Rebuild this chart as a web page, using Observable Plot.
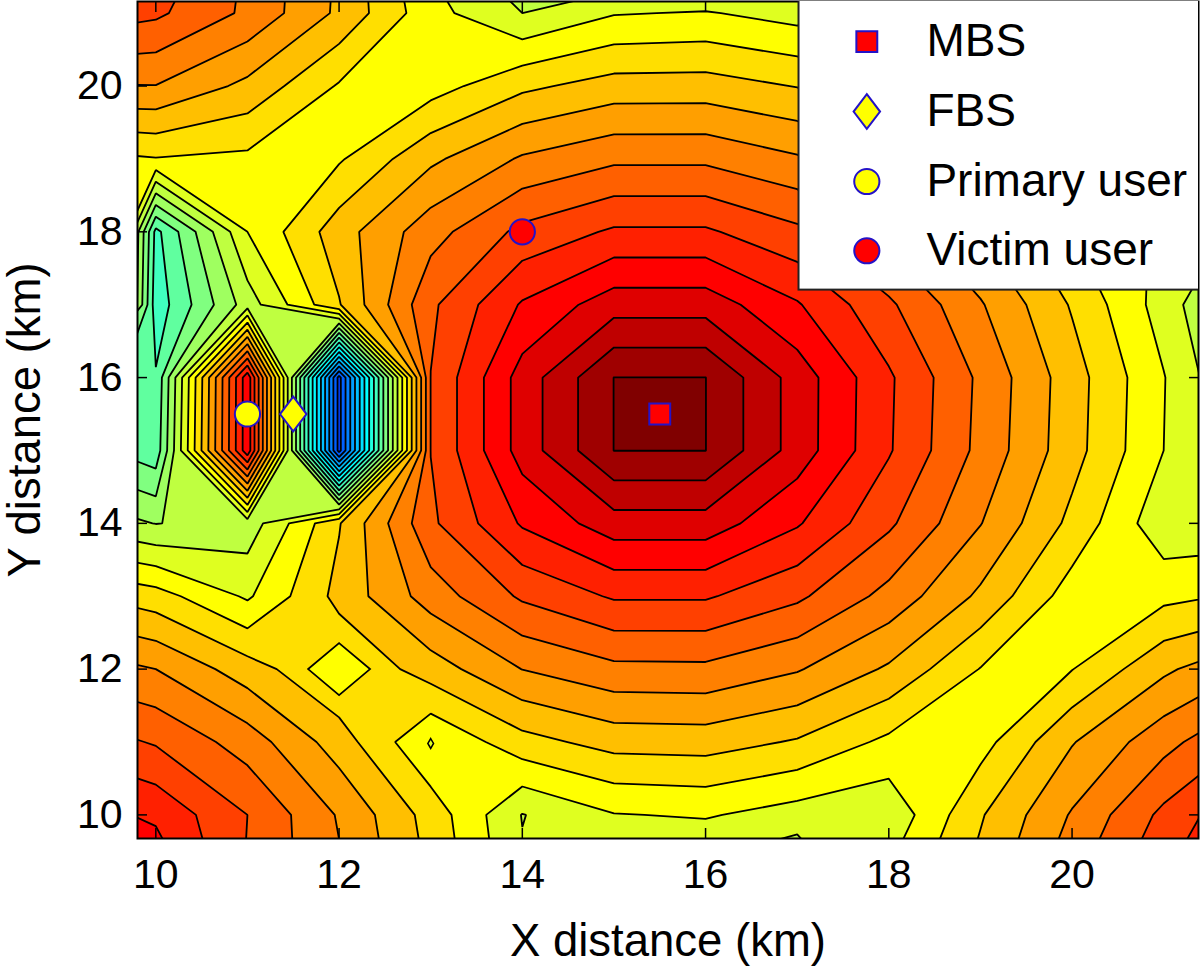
<!DOCTYPE html>
<html>
<head>
<meta charset="utf-8">
<style>html,body{margin:0;padding:0;background:#fff}svg{display:block}</style>
<script src="https://cdn.jsdelivr.net/npm/d3@7"></script>
<script src="https://cdn.jsdelivr.net/npm/@observablehq/plot@0.6"></script>
</head>
<body>
<div id="chart"></div>
<script>
const row9  = [30.0,29.2,25.85,24.2,21.9,19.2,19.1,18.3,17.5,20.25,22.4,24.87,27.08,29.8];
const row10 = [28.6,27.78,26.0,23.9,21.6,18.96,19.95,20.1,19.55,19.25,21.9,24.1,26.25,28.1];
const row11 = [26.7,25.9,24.53,22.5,20.05,21.63,22.38,22.45,21.9,20.76,20.6,22.93,24.65,26.25];
const row12 = [24.7,24.0,22.46,21.02,22.49,24.02,24.74,24.77,24.09,22.85,20.96,20.97,22.8,24.1];
const row13 = [22.2,21.43,19.85,22.31,24.47,26.16,27.12,27.12,26.2,24.67,22.8,20.5,20.73,21.2];
const row14 = [18.8,17.97,18.4,21.93,25.8,28.12,29.55,29.55,28.11,26.18,24.04,21.73,19.3,19.3];
const row15 = [16.6,15.35,28.7,6.63,26.02,29.43,32.01,32.01,29.56,27.1,24.72,22.39,20.0,17.5];
const row16 = [17.5,15.1,28.7,6.63,26.02,29.43,32.01,32.01,29.56,27.15,24.8,22.45,20.05,17.4];
const row17 = [32.0,14.4,18.5,21.93,25.8,28.11,29.56,29.56,28.1,26.18,24.1,21.9,19.54,17.0];
const row18 = [32.0,14.7,20.0,22.55,24.6,26.27,27.15,27.15,26.23,24.6,22.9,21.0,19.8,18.6];
const row19 = [20.55,20.95,20.77,20.88,22.79,24.13,24.8,24.8,24.13,22.9,21.4,20.4,20.2,20.4];
const row20 = [23.95,23.97,22.74,20.9,20.56,21.78,22.43,22.45,21.96,21.0,20.4,20.8,21.8,23.0];
const row21 = [26.8,26.2,24.8,22.8,20.35,19.0,19.93,20.08,19.6,19.8,20.4,21.8,23.5,25.0];
const row22 = [27.5,27.3,24.9,22.9,19.7,16.0,16.8,17.0,18.0,19.5,21.0,23.0,25.0,27.0];
const levelValues = [row9,row10,row11,row12,row13,row14,row15,row16,row17,row18,row19,row20,row21,row22].flat();

const levels = d3.range(0, 33);
const clamp = v => Math.max(0, Math.min(1, v));
const jet = p => d3.rgb(
  255 * clamp(Math.min(4*p - 1.5, -4*p + 4.5)),
  255 * clamp(Math.min(4*p - 0.5, -4*p + 3.5)),
  255 * clamp(Math.min(4*p + 0.5, -4*p + 2.5))).formatHex();
const levelColors = levels.map(k => jet(k / 32));

const xTicks = [10,12,14,16,18,20];
const yTicks = [10,12,14,16,18,20];

// Small closed contours around single nodes
const pocketX = [12], pocketY = [12];
const islandX = [13], islandY = [10.98];

const legendNames = ["MBS","FBS","Primary user","Victim user"];
const legendFills = ["#ff0000","#ffff00","#ffff00","#ff0000"];
const legendYs = [20.61,19.65,18.69,17.74];
const siteXs = [15.5,11.5,11,14];
const siteYs = [15.5,15.5,15.5,18];
const legendSwatchX = 17.76, legendTextX = 18.41;
const legendBoxX = [17.02,21.5], legendBoxY = [17.2,21.3];

const diamondSym = {draw(ctx, size){
  const s = Math.sqrt(size/ Math.PI);
  const w = s*1.05, h = s*1.38;
  ctx.moveTo(0,-h); ctx.lineTo(w,0); ctx.lineTo(0,h); ctx.lineTo(-w,0); ctx.closePath();
}};
const pocketSym = {draw(ctx, size){
  const s = Math.sqrt(size/ Math.PI);
  const w = s*1.19, h = s;
  ctx.moveTo(0,-h); ctx.lineTo(w,0); ctx.lineTo(0,h); ctx.lineTo(-w,0); ctx.closePath();
}};
const symbols = [
  {sym:"square", r:11.8}, {sym:diamondSym, r:12.6}, {sym:"circle", r:12.6}, {sym:"circle", r:12.6}
];
const markStroke = "#2412c8";
const sites = legendNames.map((n,i)=>({name:n,fill:legendFills[i],x:siteXs[i],y:siteYs[i],ly:legendYs[i],...symbols[i]}));

const FONT = "Liberation Sans, Arial, Helvetica, sans-serif";
const tickFmt = d => String(d);
const noFmt = () => "";
const plot = Plot.plot({
  width:1200, height:968,
  marginLeft:137, marginRight:2, marginTop:1, marginBottom:130,
  style:{fontFamily:FONT, background:"#fff", color:"#000"},
  x:{domain:[9.80,21.38], label:null},
  y:{domain:[9.676,21.16], label:null},
  color:{type:"ordinal", domain:levels, range:levelColors},
  marks:[
    Plot.contour(levelValues, {
      width:14, height:14, x1:8.5, x2:22.5, y1:8.5, y2:22.5,
      fill:Plot.identity, thresholds:levels,
      stroke:"#000", strokeWidth:1.8, clip:true
    }),
    Plot.dot(pocketX.map((x,i)=>({x,y:pocketY[i]})),{x:"x",y:"y",symbol:pocketSym,r:26,fill:"#ffff00",stroke:"#000",strokeWidth:1.8}),
    Plot.dot(islandX.map((x,i)=>({x,y:islandY[i]})),{x:"x",y:"y",symbol:"diamond",r:3,fill:"#dfff20",stroke:"#000",strokeWidth:1.5}),
    Plot.axisX(xTicks,{anchor:"bottom",tickSize:-10,tickFormat:noFmt,label:null,stroke:"#000",strokeWidth:1.5}),
    Plot.axisX(xTicks,{anchor:"top",tickSize:-10,tickFormat:noFmt,label:null,stroke:"#000",strokeWidth:1.5}),
    Plot.axisY(yTicks,{anchor:"left",tickSize:-10,tickFormat:noFmt,label:null,stroke:"#000",strokeWidth:1.5}),
    Plot.axisY(yTicks,{anchor:"right",tickSize:-10,tickFormat:noFmt,label:null,stroke:"#000",strokeWidth:1.5}),
    Plot.axisX(xTicks,{anchor:"bottom",tickSize:0,tickPadding:20,fontSize:41,tickFormat:tickFmt,label:null}),
    Plot.axisY(yTicks,{anchor:"left",tickSize:0,tickPadding:15,fontSize:41,tickFormat:tickFmt,label:null}),
    Plot.axisX(xTicks,{anchor:"bottom",tickSize:0,tickFormat:noFmt,fontSize:45.5,label:"X distance (km)",labelAnchor:"center",labelArrow:"none",labelOffset:117}),
    Plot.axisY(yTicks,{anchor:"left",tickSize:0,tickFormat:noFmt,fontSize:45.5,label:"Y distance (km)",labelAnchor:"center",labelArrow:"none",labelOffset:130}),
    Plot.frame({stroke:"#000",strokeWidth:2}),
    ...sites.map(s=>Plot.dot([s],{x:"x",y:"y",symbol:s.sym,r:s.r,fill:s.fill,stroke:markStroke,strokeWidth:2})),
    Plot.rect([0],{x1:legendBoxX[0],x2:legendBoxX[1],y1:legendBoxY[0],y2:legendBoxY[1],fill:"#fff",stroke:"#222",strokeWidth:2,clip:true}),
    ...sites.map(s=>Plot.dot([s],{x:()=>legendSwatchX,y:"ly",symbol:s.sym,r:s.r,fill:s.fill,stroke:markStroke,strokeWidth:2})),
    Plot.text(sites,{x:()=>legendTextX,y:"ly",text:"name",textAnchor:"start",fontSize:46,fill:"#000"})
  ]
});
document.getElementById("chart").appendChild(plot);
</script>
</body>
</html>
